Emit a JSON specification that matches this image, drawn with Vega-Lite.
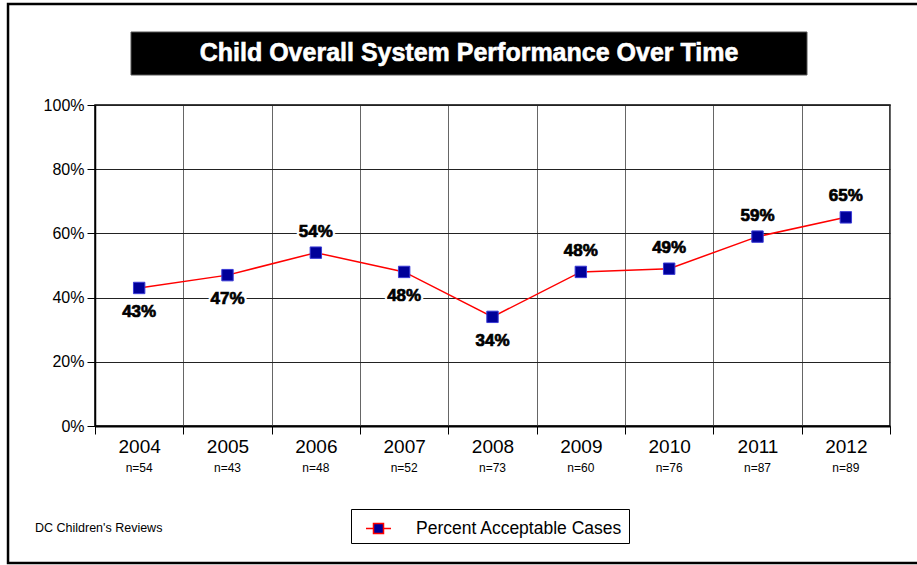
{
  "$schema": "https://vega.github.io/schema/vega-lite/v6.json",
  "width": 795,
  "height": 321,
  "autosize": {"type": "none"},
  "padding": {"left": 95, "top": 105, "right": 27, "bottom": 139},
  "background": "white",
  "config": {
    "font": "Liberation Sans",
    "view": {"stroke": "black", "strokeWidth": 1.5},
    "axis": {"labelColor": "black", "tickColor": "black", "domainColor": "black", "titleColor": "black"}
  },
  "layer": [
    {
      "data": {
        "values": [
          {"year": "2004", "pct": 43, "n": 54},
          {"year": "2005", "pct": 47, "n": 43},
          {"year": "2006", "pct": 54, "n": 48},
          {"year": "2007", "pct": 48, "n": 52},
          {"year": "2008", "pct": 34, "n": 73},
          {"year": "2009", "pct": 48, "n": 60},
          {"year": "2010", "pct": 49, "n": 76},
          {"year": "2011", "pct": 59, "n": 87},
          {"year": "2012", "pct": 65, "n": 89}
        ]
      },
      "encoding": {
        "x": {
          "field": "year",
          "type": "nominal",
          "sort": null,
          "scale": {"paddingInner": 0, "paddingOuter": 0},
          "axis": {
            "title": null,
            "labelAngle": 0,
            "labelFontSize": 19,
            "labelPadding": 3,
            "tickBand": "extent",
            "tickSize": 8,
            "tickColor": "black",
            "grid": true,
            "gridColor": "#666666",
            "gridWidth": 1,
            "domainWidth": 2
          }
        },
        "y": {
          "field": "pct",
          "type": "quantitative",
          "scale": {"domain": [0, 100], "nice": false},
          "axis": {
            "title": null,
            "values": [0, 20, 40, 60, 80, 100],
            "labelExpr": "datum.value + '%'",
            "labelFontSize": 16,
            "labelPadding": 3,
            "tickSize": 8,
            "grid": true,
            "gridColor": "#222222",
            "gridWidth": 1,
            "domainWidth": 1.5
          }
        }
      },
      "layer": [
        {
          "mark": {"type": "line", "color": "#ff0000", "strokeWidth": 1.5},
          "encoding": {
            "color": {
              "datum": "Percent Acceptable Cases",
              "type": "nominal",
              "scale": {"range": ["#ff0000"]},
              "legend": {
                "orient": "none",
                "legendX": 256,
                "legendY": 404,
                "title": null,
                "strokeColor": "black",
                "fillColor": "white",
                "padding": 6,
                "symbolOffset": 8,
                "labelFontSize": 17.5,
                "labelLimit": 0,
                "labelColor": "black",
                "labelOffset": 24,
                "symbolType": "M-1,0H-0.4M0.4,0H1M-0.4,-0.4H0.4V0.4H-0.4Z",
                "symbolSize": 625,
                "symbolStrokeColor": "#ff0000",
                "symbolFillColor": "#000099",
                "symbolStrokeWidth": 1.5
              }
            }
          }
        },
        {
          "mark": {"type": "point", "shape": "square", "filled": true, "size": 130, "fill": "#000099", "stroke": "#3b3bd6", "strokeWidth": 1, "opacity": 1}
        },
        {
          "transform": [{"filter": {"field": "year", "oneOf": ["2004", "2005", "2007", "2008"]}}],
          "mark": {"type": "text", "text": {"expr": "datum.pct + '%'"}, "fontSize": 17, "fontWeight": "bold", "dy": 24, "baseline": "middle", "stroke": "white", "strokeWidth": 5, "strokeJoin": "round", "fill": "white"}
        },
        {
          "transform": [{"filter": {"field": "year", "oneOf": ["2004", "2005", "2007", "2008"]}}],
          "mark": {"type": "text", "text": {"expr": "datum.pct + '%'"}, "fontSize": 17, "fontWeight": "bold", "dy": 24, "baseline": "middle", "fill": "black", "stroke": "black", "strokeWidth": 0.7}
        },
        {
          "transform": [{"filter": {"not": {"field": "year", "oneOf": ["2004", "2005", "2007", "2008"]}}}],
          "mark": {"type": "text", "text": {"expr": "datum.pct + '%'"}, "fontSize": 17, "fontWeight": "bold", "dy": -21, "baseline": "middle", "stroke": "white", "strokeWidth": 5, "strokeJoin": "round", "fill": "white"}
        },
        {
          "transform": [{"filter": {"not": {"field": "year", "oneOf": ["2004", "2005", "2007", "2008"]}}}],
          "mark": {"type": "text", "text": {"expr": "datum.pct + '%'"}, "fontSize": 17, "fontWeight": "bold", "dy": -21, "baseline": "middle", "fill": "black", "stroke": "black", "strokeWidth": 0.7}
        },
        {
          "mark": {"type": "text", "text": {"expr": "'n=' + datum.n"}, "fontSize": 12, "baseline": "middle", "color": "black"},
          "encoding": {
            "y": {"datum": -13, "type": "quantitative", "scale": {"domain": [0, 100], "nice": false}}
          }
        }
      ]
    },
    {
      "data": {"values": [{}]},
      "layer": [
        {
          "mark": {"type": "rect", "fill": "transparent", "stroke": "black", "strokeWidth": 2.5},
          "encoding": {
            "x": {"datum": -10.94, "type": "quantitative", "scale": {"domain": [0, 100], "nice": false, "zero": false}, "axis": null},
            "x2": {"datum": 125},
            "y": {"datum": -42.7, "type": "quantitative", "scale": {"domain": [0, 100], "nice": false}},
            "y2": {"datum": 131.5}
          }
        },
        {
          "mark": {"type": "rect", "fill": "black", "stroke": "#555555", "strokeWidth": 1},
          "encoding": {
            "x": {"datum": 4.53, "type": "quantitative", "scale": {"domain": [0, 100], "nice": false, "zero": false}, "axis": null},
            "x2": {"datum": 89.56},
            "y": {"datum": 109.35, "type": "quantitative", "scale": {"domain": [0, 100], "nice": false}},
            "y2": {"datum": 122.74}
          }
        },
        {
          "mark": {"type": "text", "text": "Child Overall System Performance Over Time", "fontSize": 25, "fontWeight": "bold", "fill": "white", "stroke": "white", "strokeWidth": 0.6, "align": "center", "baseline": "middle"},
          "encoding": {
            "x": {"datum": 47.05, "type": "quantitative", "scale": {"domain": [0, 100], "nice": false, "zero": false}, "axis": null},
            "y": {"datum": 116.2, "type": "quantitative", "scale": {"domain": [0, 100], "nice": false}}
          }
        },
        {
          "mark": {"type": "text", "text": "DC Children's Reviews", "fontSize": 12.5, "fill": "black", "align": "left", "baseline": "middle"},
          "encoding": {
            "x": {"datum": -7.55, "type": "quantitative", "scale": {"domain": [0, 100], "nice": false, "zero": false}, "axis": null},
            "y": {"datum": -31.8, "type": "quantitative", "scale": {"domain": [0, 100], "nice": false}}
          }
        }
      ]
    }
  ],
  "resolve": {"scale": {"x": "independent"}, "axis": {"x": "independent"}}
}
